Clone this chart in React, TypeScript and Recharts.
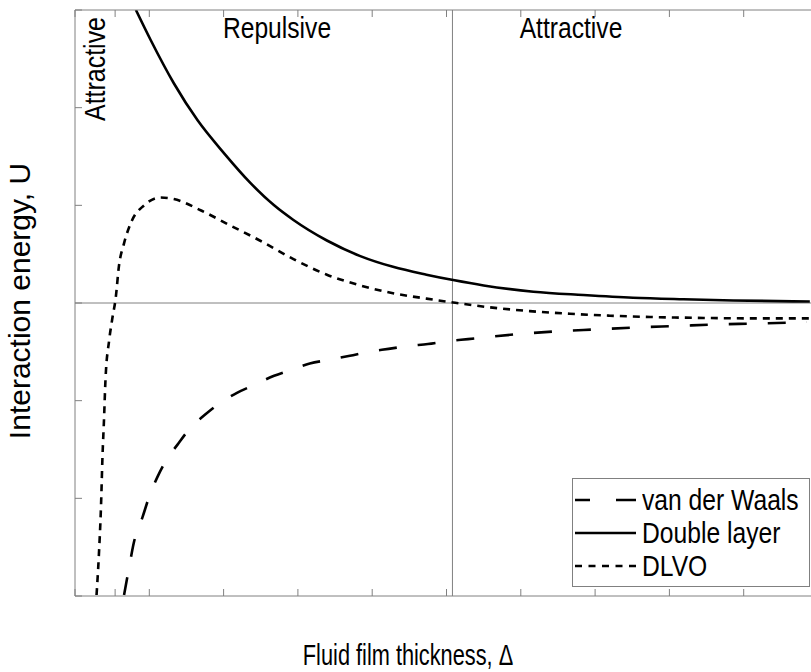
import { LineChart, Line, XAxis, YAxis, ReferenceLine, Legend } from 'recharts';

const FONT = "'Liberation Sans', Arial, sans-serif";
const FRAME = '#808080';
const SQUEEZE = 0.85;

// van der Waals (long dashes)
const vdwX = [0.66, 0.73, 0.79, 0.91, 1.0, 1.11, 1.22, 1.38, 1.53, 1.74, 1.94, 2.18, 2.41, 2.68, 2.89, 3.16, 3.43, 3.7, 3.95, 4.22, 4.49, 4.75, 5.02, 5.29, 5.94, 6.48, 7.02, 7.56, 8.1, 8.63, 9.17, 9.85];
const vdwU = [-2.99, -2.7, -2.46, -2.19, -1.98, -1.78, -1.62, -1.45, -1.3, -1.15, -1.03, -0.92, -0.84, -0.745, -0.69, -0.62, -0.58, -0.54, -0.5, -0.47, -0.44, -0.42, -0.39, -0.37, -0.32, -0.29, -0.27, -0.25, -0.235, -0.22, -0.21, -0.195];

// Double layer (solid)
const dlX = [0.82, 1.02, 1.33, 1.65, 2.01, 2.36, 2.68, 2.94, 3.39, 3.84, 4.28, 4.73, 5.09, 5.5, 6.17, 6.84, 7.51, 8.19, 8.86, 9.89];
const dlU = [3.0, 2.69, 2.25, 1.87, 1.53, 1.23, 1.0, 0.85, 0.64, 0.48, 0.37, 0.29, 0.235, 0.18, 0.116, 0.082, 0.054, 0.038, 0.026, 0.015];

// DLVO (short dashes)
const dlvoX = [0.29, 0.32, 0.35, 0.37, 0.39, 0.41, 0.46, 0.5, 0.55, 0.59, 0.66, 0.77, 0.93, 1.15, 1.33, 1.69, 2.1, 2.5, 2.94, 3.39, 3.84, 4.28, 4.73, 5.09, 5.59, 6.12, 6.66, 7.2, 7.74, 8.46, 9.08, 9.9];
const dlvoU = [-2.99, -2.6, -2.08, -1.57, -1.2, -0.79, -0.38, -0.17, 0.065, 0.37, 0.61, 0.85, 1.0, 1.08, 1.065, 0.95, 0.79, 0.635, 0.45, 0.29, 0.18, 0.1, 0.045, 0.005, -0.045, -0.083, -0.11, -0.13, -0.143, -0.153, -0.157, -0.157];

const xTicks = [0, 0.54, 1, 2, 3, 4, 5, 6, 7, 8, 9, 10];
const yTicks = [-3, -2, -1, 0, 1, 2, 3];

const legendNames = ['van der Waals', 'Double layer', 'DLVO'];
const legendDash = ['15 26 20', '', '7 6.5'];

const toRows = (xs: number[], us: number[]) => xs.map((x, i) => ({ x, u: us[i] }));

// no tick labels, only the inward tick marks
const NoLabel = () => <g />;

function LegendBox() {
  return (
    <div style={{ width: 238, height: 109, boxSizing: 'border-box', border: `1px solid ${FRAME}`, background: '#fff', position: 'relative', fontFamily: FONT }}>
      {legendNames.map((name, i) => (
        <div key={name} style={{ position: 'absolute', left: 0, top: 21 + i * 33 - 16, height: 32, width: 236 }}>
          <svg width={64} height={32} style={{ position: 'absolute', left: 1, top: 0 }}>
            <line x1={1} y1={16} x2={62} y2={16} stroke="#000" strokeWidth={2.6} strokeDasharray={legendDash[i] || undefined} />
          </svg>
          <div style={{ position: 'absolute', left: 69, top: 0, lineHeight: '32px', fontSize: 29, color: '#000', whiteSpace: 'nowrap', transform: `scaleX(${SQUEEZE})`, transformOrigin: 'left center' }}>{name}</div>
        </div>
      ))}
    </div>
  );
}

const textStyle = (left: number, top: number, size: number, rotate = 0, squeeze = SQUEEZE) => ({
  position: 'absolute' as const,
  left,
  top,
  fontSize: size,
  lineHeight: 1,
  whiteSpace: 'nowrap' as const,
  color: '#000',
  transform: `translate(-50%, -50%) rotate(${rotate}deg) scaleX(${squeeze})`,
});

export default function App() {
  const common = { isAnimationActive: false, dot: false, type: 'monotone' as const, stroke: '#000', strokeWidth: 2.6, xAxisId: 'b', yAxisId: 'l', dataKey: 'u' };
  const axisStyle = { tick: NoLabel, tickSize: -7, stroke: FRAME, allowDataOverflow: true, type: 'number' as const };
  return (
    <div style={{ position: 'absolute', left: 0, top: 0, width: 811, height: 672, overflow: 'hidden', background: '#fff', fontFamily: FONT }}>
      <LineChart width={820} height={672} margin={{ top: 9, right: 1, bottom: 75, left: 74 }}>
        <XAxis xAxisId="b" dataKey="x" domain={[0, 10]} ticks={xTicks} height={1} {...axisStyle} />
        <XAxis xAxisId="t" orientation="top" dataKey="x" domain={[0, 10]} ticks={xTicks} height={1} {...axisStyle} />
        <YAxis yAxisId="l" domain={[-3, 3]} ticks={yTicks} width={1} {...axisStyle} />
        <YAxis yAxisId="r" orientation="right" domain={[-3, 3]} ticks={yTicks} width={1} {...axisStyle} />
        <ReferenceLine xAxisId="b" yAxisId="l" y={0} stroke={FRAME} />
        <ReferenceLine xAxisId="b" yAxisId="l" x={5.08} stroke={FRAME} />
        <Line {...common} data={toRows(vdwX, vdwU)} name="van der Waals" strokeDasharray="18 21" />
        <Line {...common} data={toRows(dlX, dlU)} name="Double layer" />
        <Line {...common} data={toRows(dlvoX, dlvoU)} name="DLVO" strokeDasharray="7 6" />
        <Legend layout="horizontal" verticalAlign="middle" align="center" content={() => <LegendBox />} wrapperStyle={{ left: 572, top: 478, width: 238, height: 109 }} />
      </LineChart>
      <div style={textStyle(277, 28, 29)}>Repulsive</div>
      <div style={textStyle(571, 28, 29)}>Attractive</div>
      <div style={textStyle(95, 69, 29, -90, 0.86)}>Attractive</div>
      <div style={textStyle(20, 301, 30, -90, 1)}>Interaction energy, U</div>
      <div style={textStyle(408, 655, 29, 0, 0.75)}>Fluid film thickness, Δ</div>
    </div>
  );
}
